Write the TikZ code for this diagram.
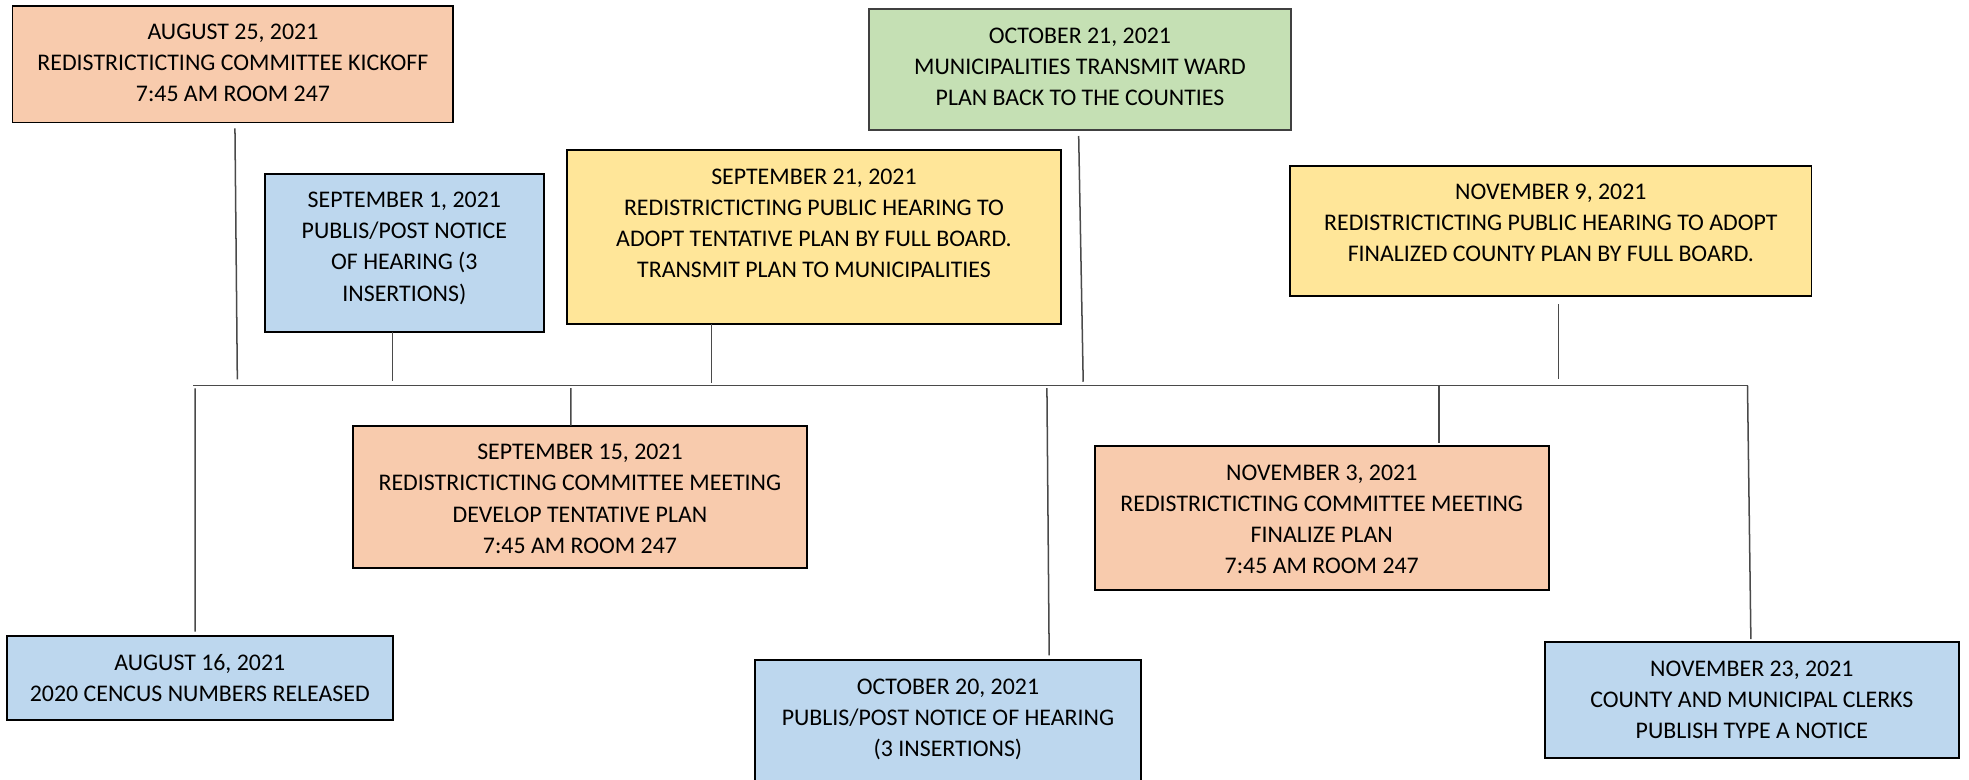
\documentclass[tikz,border=0pt]{standalone}
\usepackage{fontspec}
\setmainfont{Carlito}
\definecolor{peach}{HTML}{F8CBAD}
\definecolor{skyblue}{HTML}{BDD7EE}
\definecolor{butter}{HTML}{FFE699}
\definecolor{sage}{HTML}{C5E0B4}
\definecolor{stem}{HTML}{4A4A4A}
% box text: width, height, lines (top aligned, centred)
\newcommand\evtext[3]{\parbox[c][#2][t]{#1}{\centering\fontsize{19}{24.8}\selectfont\rule{0pt}{27.1pt}#3}}
\tikzset{
  evbox/.style={draw=black, line width=1.4pt, inner sep=0pt, outer sep=0pt, anchor=north west},
  stemline/.style={draw=stem, line width=1.2pt},
}
\begin{document}
\begin{tikzpicture}[x=1pt,y=-1pt]
\useasboundingbox (0,0) rectangle (1568,621);
\clip (0,0) rectangle (1568,621);

% events above the timeline
\node[evbox, fill=peach] (aug25) at (10,4.5)
  {\evtext{351pt}{93pt}{AUGUST 25, 2021\\REDISTRICTICTING COMMITTEE KICKOFF\\7:45 AM ROOM 247}};
\node[evbox, fill=skyblue] (sep1) at (211,138.3)
  {\evtext{222pt}{126pt}{SEPTEMBER 1, 2021\\PUBLIS/POST NOTICE\\OF HEARING (3\\INSERTIONS)}};
\node[evbox, fill=butter] (sep21) at (451.4,119.5)
  {\evtext{393.6pt}{138.5pt}{SEPTEMBER 21, 2021\\REDISTRICTICTING PUBLIC HEARING TO\\ADOPT TENTATIVE PLAN BY FULL BOARD.\\TRANSMIT PLAN TO MUNICIPALITIES}};
\node[evbox, fill=sage, draw=black!75] (oct21) at (692,7.2)
  {\evtext{336pt}{96.3pt}{OCTOBER 21, 2021\\MUNICIPALITIES TRANSMIT WARD\\PLAN BACK TO THE COUNTIES}};
\node[evbox, fill=butter] (nov9) at (1027.5,131.9)
  {\evtext{415pt}{103.8pt}{NOVEMBER 9, 2021\\REDISTRICTICTING PUBLIC HEARING TO ADOPT\\FINALIZED COUNTY PLAN BY FULL BOARD.}};

% events below the timeline
\node[evbox, fill=skyblue] (aug16) at (5.3,506.5)
  {\evtext{307.6pt}{66.9pt}{AUGUST 16, 2021\\2020 CENCUS NUMBERS RELEASED}};
\node[evbox, fill=peach] (sep15) at (280.9,339)
  {\evtext{361.9pt}{113.1pt}{SEPTEMBER 15, 2021\\REDISTRICTICTING COMMITTEE MEETING\\DEVELOP TENTATIVE PLAN\\7:45 AM ROOM 247}};
\node[evbox, fill=skyblue] (oct20) at (601.2,525.6)
  {\evtext{307.4pt}{110pt}{OCTOBER 20, 2021\\PUBLIS/POST NOTICE OF HEARING\\(3 INSERTIONS)}};
\node[evbox, fill=peach] (nov3) at (871.7,355.2)
  {\evtext{361.7pt}{114.7pt}{NOVEMBER 3, 2021\\REDISTRICTICTING COMMITTEE MEETING\\FINALIZE PLAN\\7:45 AM ROOM 247}};
\node[evbox, fill=skyblue] (nov23) at (1230.2,511.5)
  {\evtext{329.7pt}{91.9pt}{NOVEMBER 23, 2021\\COUNTY AND MUNICIPAL CLERKS\\PUBLISH TYPE A NOTICE}};

% timeline and tick ends
\coordinate (tl-w) at (153.9,307.1);
\coordinate (tl-e) at (1391.6,307.1);
\coordinate (k-aug25) at (189,302.1);
\coordinate (k-sep1) at (312.7,303.4);
\coordinate (k-sep21) at (566.4,305.3);
\coordinate (k-oct21) at (862.6,304);
\coordinate (k-nov9) at (1241.2,302.1);
\coordinate (k-aug16) at (155.4,309.2);
\coordinate (k-sep15) at (454.7,309);
\coordinate (k-oct20) at (833.7,309);
\coordinate (k-nov3) at (1145.9,307.1);

\draw[stemline] (tl-w) -- (tl-e);

\draw[stemline] ([xshift=1.6pt,yshift=-4.7pt]aug25.south) -- (k-aug25);
\draw[stemline] ([xshift=-9.3pt]sep1.south) -- (k-sep1);
\draw[stemline] ([xshift=-81.8pt]sep21.south) -- (k-sep21);
\draw[stemline] ([xshift=-1pt,yshift=-4.8pt]oct21.south) -- (k-oct21);
\draw[stemline] ([xshift=6.2pt,yshift=-6.4pt]nov9.south) -- (k-nov9);

\draw[stemline] (k-aug16) -- ([xshift=-3.7pt,yshift=3.5pt]aug16.north);
\draw[stemline] (k-sep15) -- ([xshift=-7.2pt]sep15.north);
\draw[stemline] (k-oct20) -- ([xshift=80.6pt,yshift=3.7pt]oct20.north);
\draw[stemline] (k-nov3) -- ([xshift=93.35pt,yshift=2.2pt]nov3.north);
\draw[stemline] (tl-e) -- ([xshift=-0.75pt,yshift=2.5pt]nov23.north);
\end{tikzpicture}
\end{document}
